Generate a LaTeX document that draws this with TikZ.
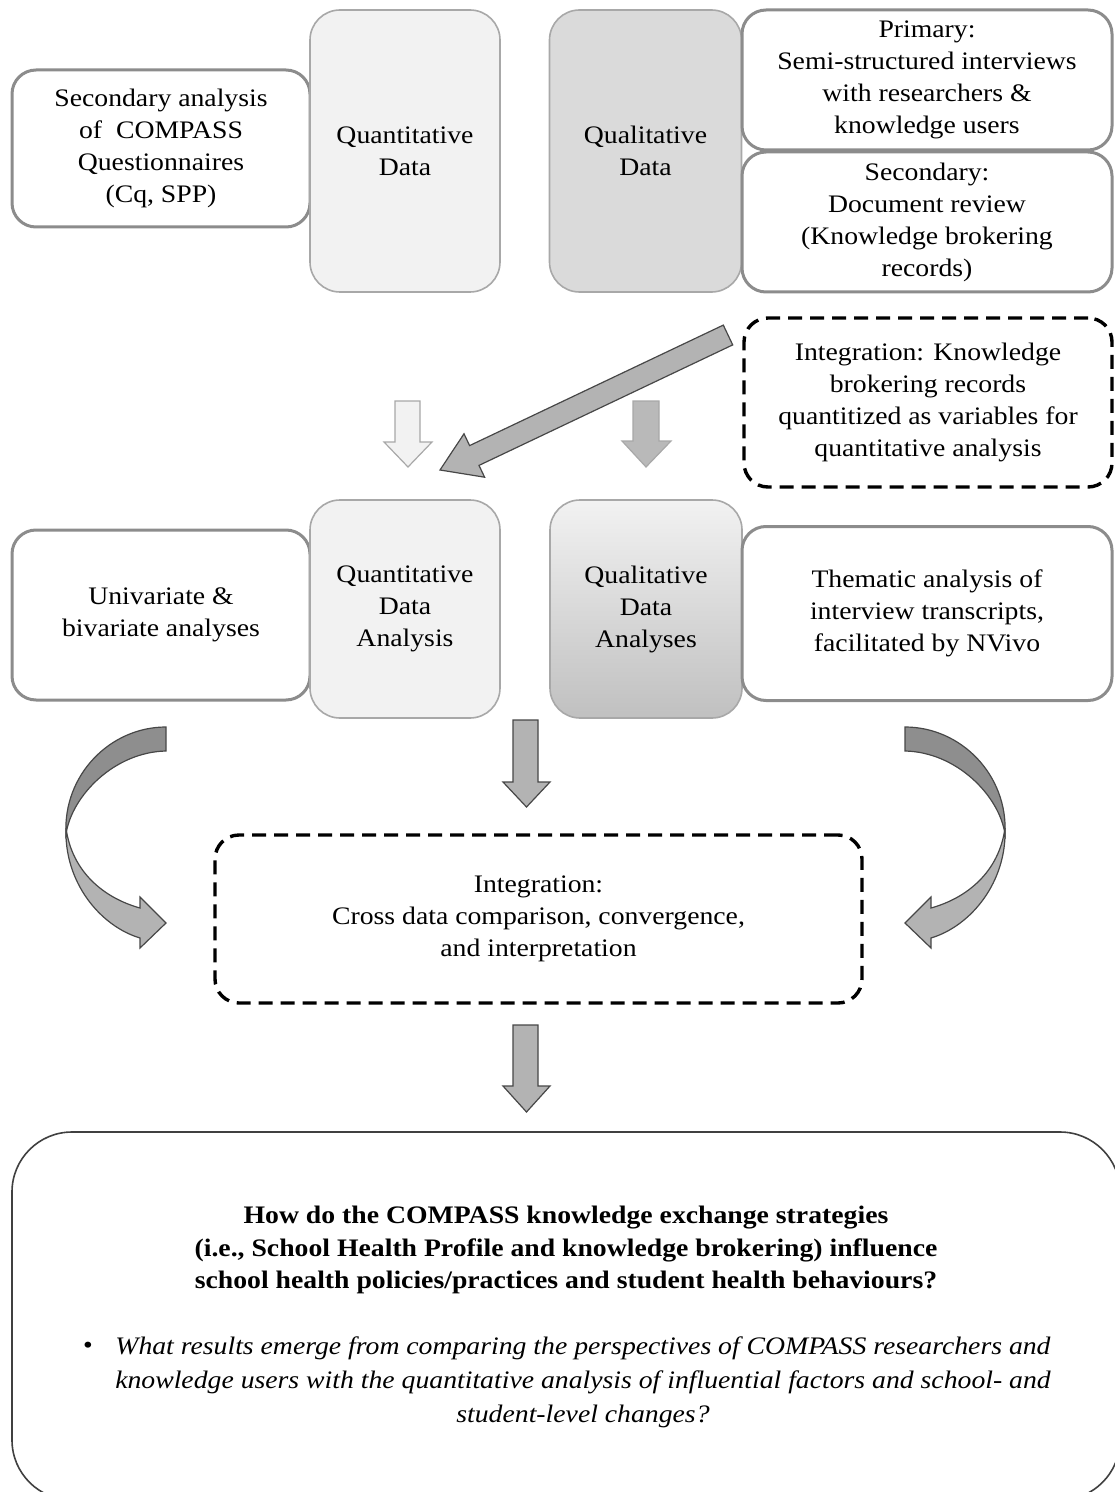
\documentclass[tikz,border=0pt]{standalone}
\usepackage{fontspec}
\setmainfont{Liberation Serif}[FakeStretch=1.1]
\usetikzlibrary{positioning}
\usepackage{color}

\definecolor{boxline}{HTML}{8C8C8C}
\definecolor{lightline}{HTML}{A8A8A8}
\definecolor{quantfill}{HTML}{F2F2F2}
\definecolor{qualfill}{HTML}{DADADA}
\definecolor{arrowfill}{HTML}{B3B3B3}
\definecolor{arrowdark}{HTML}{8E8E8E}
\definecolor{arrowline}{HTML}{474747}

\tikzset{
    whitebox/.style={rectangle, rounded corners=12pt, draw=boxline, line width=1.5pt, fill=white, align=center, inner sep=0pt},
    quantbox/.style={rectangle, rounded corners=15pt, draw=lightline, line width=0.8pt, fill=quantfill, align=center, inner sep=0pt},
    qualbox/.style={quantbox, fill=qualfill},
    dashbox/.style={rectangle, rounded corners=12pt, draw=black, line width=1.7pt, dash pattern=on 7pt off 4pt, align=center, inner sep=0pt},
    blockarrow/.style={draw=arrowline, line width=0.6pt, fill=arrowfill, line join=miter},
    bendarrow/.pic={
        % darker back half of the curved arrow
        \draw[blockarrow, fill=arrowdark] (166,727) -- (166,751) .. controls (115,752) and (72,795) .. (66,834)
            .. controls (63,775) and (110,727) .. (166,727) -- cycle;
        % lighter front half with the head
        \draw[blockarrow] (66,828) .. controls (64,882) and (100,926) .. (140,938) -- (140,948) -- (166,923)
            -- (140,897) -- (140,908) .. controls (104,898) and (72,872) .. (66,828) -- cycle;
    }
}

\begin{document}
\begin{tikzpicture}[x=0.5pt, y=-0.5pt, font=\fontsize{12.6}{16}\selectfont]
    \useasboundingbox (0,0) rectangle (1114,1492);

    % data sources
    \node[whitebox, minimum width=149pt, minimum height=78.5pt] (secq) at (161,148.5) {Secondary analysis\\of~ COMPASS\\Questionnaires\\(Cq, SPP)};
    \node[quantbox, minimum width=95pt, minimum height=141pt] (quantd) at (405,151) {Quantitative\\Data};
    \node[qualbox, minimum width=96pt, minimum height=141pt] (quald) at (645.5,151) {Qualitative\\Data};
    \node[whitebox, minimum width=185pt, minimum height=70pt] (prim) at (927,80) {Primary:\\Semi-structured interviews\\with researchers \&\\knowledge users};
    \node[whitebox, minimum width=185pt, minimum height=70pt] (secd) at (927,222) {Secondary:\\Document review\\(Knowledge brokering\\records)};

    \node[dashbox, minimum width=184pt, minimum height=84.5pt] (integ) at (928,402.5) {Integration: Knowledge\\brokering records\\quantitized as variables for\\quantitative analysis};

    % arrows between the two rows
    \draw[blockarrow, draw=lightline, fill=quantfill] (395,401) -- (420,401) -- (420,442) -- (432,442) -- (408,467) -- (384,442) -- (395,442) -- cycle;
    \draw[blockarrow, draw=lightline, fill=qualfill!85!black] (633,401) -- (659,401) -- (659,441) -- (671,441) -- (646,467) -- (622,441) -- (633,441) -- cycle;
    \draw[blockarrow] (723.3,325.1) -- (469.6,445.6) -- (464.0,433.8) -- (440,470) -- (484.6,477.2) -- (479.0,465.4) -- (732.7,344.9) -- cycle;

    % analyses
    \node[whitebox, minimum width=149pt, minimum height=85pt] (univ) at (161,615) {Univariate \&\\bivariate analyses};
    \node[quantbox, minimum width=95pt, minimum height=109pt] (qda) at (405,609) {Quantitative\\Data\\Analysis};
    \node[quantbox, top color=quantfill, bottom color=qualfill!88!black, minimum width=96pt, minimum height=109pt] (qala) at (646,609) {Qualitative\\Data\\Analyses};
    \node[whitebox, minimum width=185pt, minimum height=87pt] (them) at (927,613.5) {Thematic analysis of\\interview transcripts,\\facilitated by NVivo};

    \draw[blockarrow] (513,720) -- (538,720) -- (538,782) -- (550,782) -- (526.5,807) -- (503,782) -- (513,782) -- cycle;
    \pic at (0,0) {bendarrow};
    \pic[xscale=-1] at (1071,0) {bendarrow};

    \node[dashbox, minimum width=323.5pt, minimum height=84pt] (cross) at (538.5,919) {Integration:\\Cross data comparison, convergence,\\and interpretation};

    \draw[blockarrow] (513,1025) -- (538,1025) -- (538,1086) -- (550,1086) -- (526.5,1112) -- (503,1086) -- (513,1086) -- cycle;

    % research question
    \node[rectangle, rounded corners=30pt, draw=black!75, line width=0.8pt, minimum width=554pt, minimum height=184pt] (outcome) at (566,1316) {};
    \node[align=center, font=\fontsize{12.6}{16.25}\selectfont\bfseries] (rq) at (566,1250) {How do the COMPASS knowledge exchange strategies\\(i.e., School Health Profile and knowledge brokering) influence\\school health policies/practices and student health behaviours?};
    \node[align=center, font=\fontsize{12.6}{17}\selectfont\itshape] (subq) at (583,1382) {What results emerge from comparing the perspectives of COMPASS researchers and\\knowledge users with the quantitative analysis of influential factors and school- and\\student-level changes?};
    \node (dot) at (88,1348) {\textbullet};
\end{tikzpicture}
\end{document}
